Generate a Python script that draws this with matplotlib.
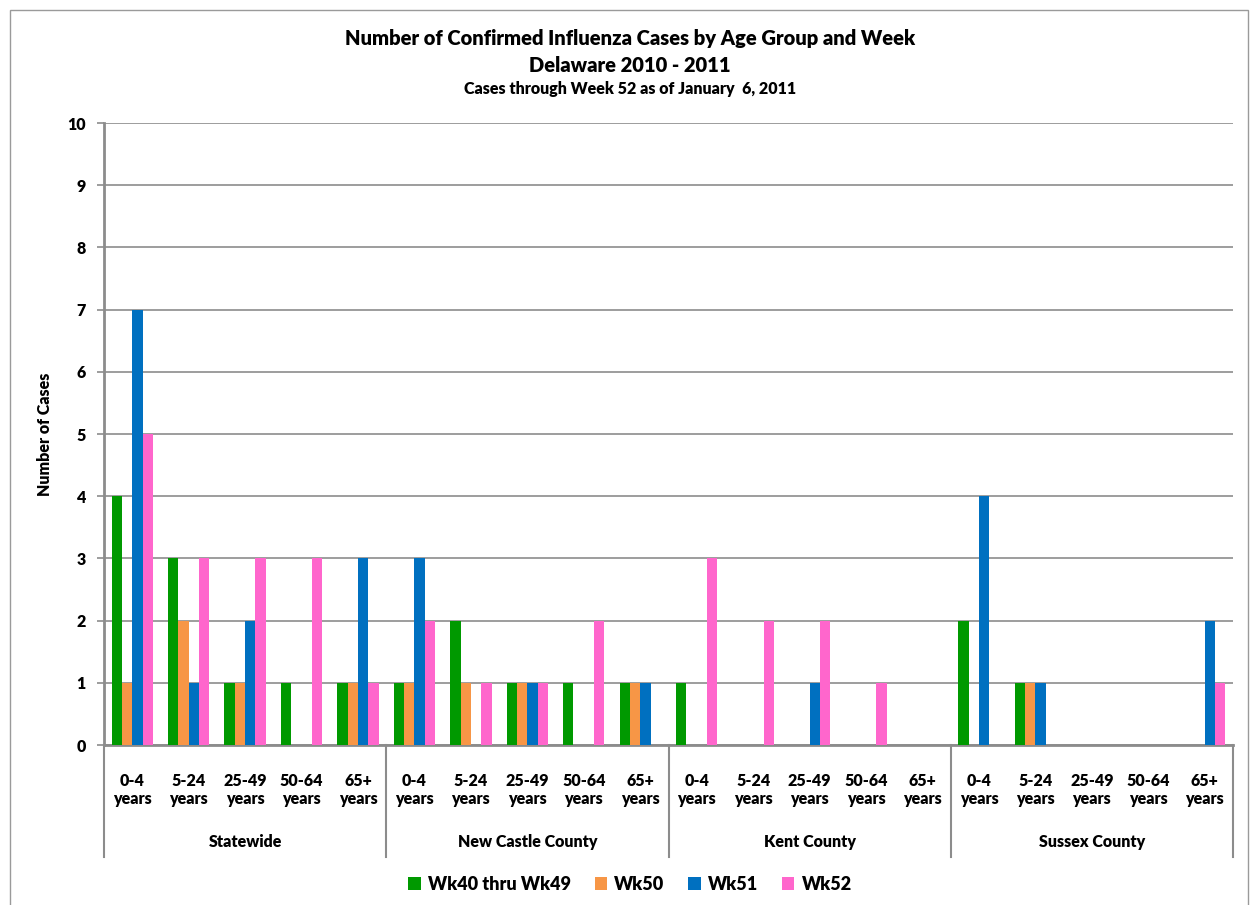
import numpy as np
import matplotlib
matplotlib.use('Agg')
import matplotlib.pyplot as plt
from matplotlib.patches import Rectangle
from matplotlib.transforms import blended_transform_factory

plt.rcParams['font.family'] = ['Lato', 'DejaVu Sans']
plt.rcParams['font.weight'] = 'bold'
plt.rcParams['axes.labelweight'] = 'bold'

# chart data
groups = ['Statewide', 'New Castle County', 'Kent County', 'Sussex County']
ages = ['0-4\nyears', '5-24\nyears', '25-49\nyears', '50-64\nyears', '65+\nyears']
series = ['Wk40 thru Wk49', 'Wk50', 'Wk51', 'Wk52']

# values per (group, age) in the order above
wk40_49 = [4, 3, 1, 1, 1,  1, 2, 1, 1, 1,  1, 0, 0, 0, 0,  2, 1, 0, 0, 0]
wk50    = [1, 2, 1, 0, 1,  1, 1, 1, 0, 1,  0, 0, 0, 0, 0,  0, 1, 0, 0, 0]
wk51    = [7, 1, 2, 0, 3,  3, 0, 1, 0, 1,  0, 0, 1, 0, 0,  4, 1, 0, 0, 2]
wk52    = [5, 3, 3, 3, 1,  2, 1, 1, 2, 0,  3, 2, 2, 1, 0,  0, 0, 0, 0, 1]

colors = ['#009900', '#F79646', '#0070C0', '#FF66CC']
grid_col = '#8c8c8c'
wt = 'heavy'

fig = plt.figure(figsize=(12.5, 9.05), dpi=100)
ax = fig.add_axes([104 / 1250, 1 - 745 / 905, (1233 - 104) / 1250, (745 - 123) / 905])

n = len(groups) * len(ages)
x = np.arange(n) + 0.5
w = 0.183
for k, (vals, c, lab) in enumerate(zip([wk40_49, wk50, wk51, wk52], colors, series)):
    ax.bar(x + (k - 1.5) * w, vals, width=w, color=c, label=lab, zorder=3)

ax.set_xlim(0, n)
ax.set_ylim(0, 10)
ax.set_yticks(range(0, 11))
ax.yaxis.grid(True, color=grid_col, linewidth=1.2)
ax.set_axisbelow(True)
for s in ['top', 'right']:
    ax.spines[s].set_visible(False)
for s in ['left', 'bottom']:
    ax.spines[s].set_color(grid_col)
    ax.spines[s].set_linewidth(2)
ax.tick_params(axis='y', length=5, width=1.2, color=grid_col, labelsize=11.5, pad=8)
ax.set_yticklabels([str(v) for v in range(0, 11)], fontweight=wt)

ax.set_xticks(x)
ax.set_xticklabels(ages * len(groups), fontsize=11.5, linespacing=1.2, fontweight=wt)
ax.tick_params(axis='x', length=0, pad=20)

ax.set_ylabel('Number of Cases', fontsize=11.5, fontweight=wt, labelpad=10)

# group dividers and labels
trans = blended_transform_factory(ax.transData, ax.transAxes)
for g in range(len(groups) + 1):
    xg = g * len(ages)
    ax.plot([xg, xg], [0, -(857 - 745) / 622], transform=trans, color=grid_col,
            linewidth=1.5, clip_on=False)
for g, name in enumerate(groups):
    ax.text(g * len(ages) + len(ages) / 2, -(842 - 745) / 622, name, transform=trans,
            ha='center', va='center', fontsize=11.5, fontweight=wt)

fig.text(0.504, 1 - 38 / 905, 'Number of Confirmed Influenza Cases by Age Group and Week',
         ha='center', va='center', fontsize=14.5, fontweight=wt)
fig.text(0.504, 1 - 65 / 905, 'Delaware 2010 - 2011', ha='center', va='center',
         fontsize=14.5, fontweight=wt)
fig.text(0.504, 1 - 89 / 905, 'Cases through Week 52 as of January  6, 2011',
         ha='center', va='center', fontsize=11.5, fontweight=wt)

leg = fig.legend(loc='center', bbox_to_anchor=(0.504, 1 - 884 / 905), ncol=4, frameon=False,
                 fontsize=13, handlelength=0.7, handleheight=0.7, handletextpad=0.4,
                 columnspacing=1.3)
for t in leg.get_texts():
    t.set_fontweight(wt)

fig.patches.append(Rectangle((10 / 1250, -0.01), 1238 / 1250, 1 - 10 / 905 + 0.01,
                             transform=fig.transFigure, fill=False,
                             edgecolor='#9a9a9a', linewidth=1))

fig.savefig('out.png', dpi=100)
